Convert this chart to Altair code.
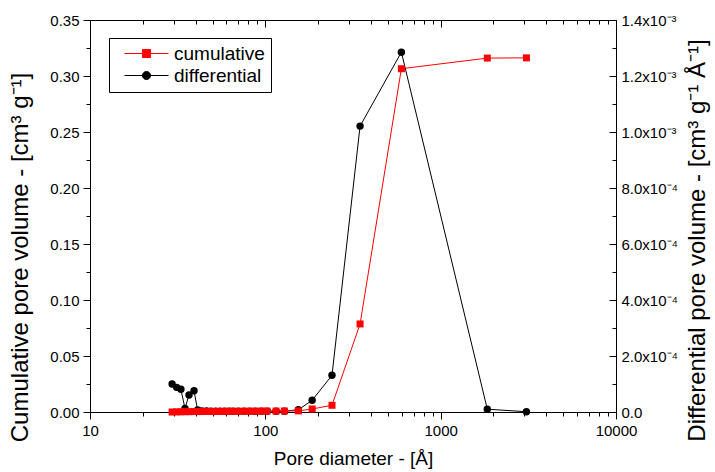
import altair as alt
import pandas as pd

# ---- data ----
diameter = [29.4, 31.2, 33.0, 34.8, 36.7, 39.2, 41.1, 43.5, 46.2, 49.0, 52.0, 55.1,
            58.5, 62.1, 65.4, 70.1, 75.6, 81.5, 87.7, 94.9, 102.3, 115.1, 128.4,
            154.3, 185.0, 240.0, 347.0, 597.0, 1845.0, 3084.0]
cumulative = [0.0000, 0.0001, 0.0002, 0.0003, 0.0003, 0.0004, 0.0004, 0.0004, 0.0005,
              0.0005, 0.0005, 0.0005, 0.0006, 0.0006, 0.0006, 0.0006, 0.0007, 0.0007,
              0.0007, 0.0008, 0.0008, 0.0008, 0.0009, 0.0010, 0.0027, 0.0060, 0.0786,
              0.3065, 0.3160, 0.3162]
differential = [1.00e-4, 0.88e-4, 0.81e-4, 0.13e-4, 0.61e-4, 0.76e-4, 0.07e-4, 0.04e-4,
                0.04e-4, 0.03e-4, 0.03e-4, 0.03e-4, 0.03e-4, 0.03e-4, 0.03e-4, 0.03e-4,
                0.03e-4, 0.03e-4, 0.03e-4, 0.03e-4, 0.03e-4, 0.03e-4, 0.03e-4, 0.08e-4,
                0.42e-4, 1.31e-4, 10.21e-4, 12.85e-4, 0.10e-4, 0.01e-4]

series_names = ["cumulative", "differential"]
series_colors = ["#ff0000", "#000000"]

x_major = [10, 100, 1000, 10000]
x_minor = [20, 30, 40, 50, 60, 70, 80, 90, 200, 300, 400, 500, 600, 700, 800, 900,
           2000, 3000, 4000, 5000, 6000, 7000, 8000, 9000]
yl_major = [0.0, 0.05, 0.10, 0.15, 0.20, 0.25, 0.30, 0.35]
yl_minor = [0.025, 0.075, 0.125, 0.175, 0.225, 0.275, 0.325]
yr_major = [0.0, 0.0002, 0.0004, 0.0006, 0.0008, 0.0010, 0.0012, 0.0014]
yr_minor = [0.0001, 0.0003, 0.0005, 0.0007, 0.0009, 0.0011, 0.0013]

x_title = "Pore diameter - [Å]"
yl_title = "Cumulative pore volume - [cm³ g⁻¹]"
yr_title = "Differential pore volume - [cm³ g⁻¹ Å⁻¹]"

df_cum = pd.DataFrame({"d": diameter, "v": cumulative, "series": series_names[0]})
df_diff = pd.DataFrame({"d": diameter, "v": differential, "series": series_names[1]})
df_all = pd.concat([df_cum, df_diff], ignore_index=True)

FONT = "Liberation Sans"
LABEL_SIZE = 15
TITLE_SIZE = 19
YTITLE_SIZE = 24

xscale = alt.Scale(type="log", domain=[10, 10000], nice=False)
ylscale = alt.Scale(domain=[0, 0.35], nice=False, zero=False)
yrscale = alt.Scale(domain=[0, 0.0014], nice=False, zero=False)

common = dict(domain=False, grid=False, tickColor="black", tickWidth=1,
              labelFont=FONT, labelFontSize=LABEL_SIZE, labelColor="black",
              titleFont=FONT, titleFontWeight="normal",
              titleColor="black", labelFlush=False, labelOverlap=False)

# bottom / left major
ax_x_bottom = alt.Axis(orient="bottom", values=x_major, format="d", tickSize=7,
                       labelPadding=4, title=x_title, titlePadding=11,
                       titleFontSize=TITLE_SIZE, **common)
ax_y_left = alt.Axis(orient="left", values=yl_major, format=".2f", tickSize=7,
                     labelPadding=4, title=yl_title, titlePadding=17,
                     titleFontSize=YTITLE_SIZE, titleY=237, **common)
# bottom / left minor
ax_x_bottom_minor = alt.Axis(orient="bottom", values=x_minor, labels=False, tickSize=4,
                             title=None, **common)
ax_y_left_minor = alt.Axis(orient="left", values=yl_minor, labels=False, tickSize=4,
                           title=None, **common)
# top / right major (inward ticks)
ax_x_top = alt.Axis(orient="top", values=x_major, labels=False, tickSize=7, offset=-7,
                    title=None, **common)
ax_y_right = alt.Axis(orient="right", values=yr_major, tickSize=7, offset=-7,
                      labelPadding=5, title=yr_title, titlePadding=8,
                      titleFontSize=YTITLE_SIZE, titleAngle=270, titleBaseline="top",
                      titleY=220,
                      labelExpr="datum.value == 0 ? '0.0' : (datum.value >= 0.00099 ? "
                                "format(datum.value * 1000, '.1f') + 'x10⁻³' : "
                                "format(datum.value * 10000, '.1f') + 'x10⁻⁴')",
                      **common)
# top / right minor
ax_x_top_minor = alt.Axis(orient="top", values=x_minor, labels=False, tickSize=4,
                          offset=-4, title=None, **common)
ax_y_right_minor = alt.Axis(orient="right", values=yr_minor, labels=False, tickSize=4,
                            offset=-4, title=None, **common)

diff_line = alt.Chart(df_diff).mark_line(color="black", strokeWidth=1).encode(
    x=alt.X("d:Q", scale=xscale, axis=ax_x_top),
    y=alt.Y("v:Q", scale=yrscale, axis=ax_y_right),
)
diff_pts = alt.Chart(df_diff).mark_point(shape="circle", filled=True, size=55,
                                         color="black", opacity=1).encode(
    x=alt.X("d:Q", scale=xscale, axis=ax_x_top_minor),
    y=alt.Y("v:Q", scale=yrscale, axis=ax_y_right_minor),
)
cum_line = alt.Chart(df_cum).mark_line(color="#ff0000", strokeWidth=1).encode(
    x=alt.X("d:Q", scale=xscale, axis=ax_x_bottom),
    y=alt.Y("v:Q", scale=ylscale, axis=ax_y_left),
)
cum_pts = alt.Chart(df_cum).mark_point(shape="square", filled=True, size=49,
                                       color="#ff0000", opacity=1).encode(
    x=alt.X("d:Q", scale=xscale, axis=ax_x_bottom_minor),
    y=alt.Y("v:Q", scale=ylscale, axis=ax_y_left_minor),
)

# legend carrier layer: its marks fall outside its own scale domain and are clipped
sym_square = "M-3,0H3M-0.55,-0.55H0.55V0.55H-0.55Z"
sym_circle = "M-3,0H3M0.55,0A0.55,0.55,0,1,1,-0.55,0A0.55,0.55,0,1,1,0.55,0Z"
legend = alt.Legend(orient="none", legendX=19, legendY=18, title=None,
                    strokeColor="black", fillColor="white", padding=6,
                    labelFont=FONT, labelFontSize=TITLE_SIZE, labelColor="black",
                    labelExpr="datum.label + '\u00a0\u00a0\u00a0'",
                    symbolSize=215, symbolStrokeWidth=1, symbolOpacity=1,
                    symbolOffset=22, labelOffset=18, rowPadding=2)
legend_layer = alt.Chart(df_all).mark_point(filled=True, clip=True).encode(
    x=alt.X("d:Q", scale=alt.Scale(type="log", domain=[1e6, 1e7]), axis=None),
    y=alt.Y("v:Q", scale=alt.Scale(domain=[10, 20]), axis=None),
    fill=alt.Fill("series:N", scale=alt.Scale(domain=series_names, range=series_colors),
                  legend=legend),
    stroke=alt.Stroke("series:N", scale=alt.Scale(domain=series_names, range=series_colors),
                      legend=legend),
    shape=alt.Shape("series:N", scale=alt.Scale(domain=series_names,
                                                range=[sym_square, sym_circle]),
                    legend=legend),
)

chart = alt.layer(diff_line, diff_pts, cum_line, cum_pts, legend_layer).resolve_scale(
    x="independent", y="independent"
).resolve_axis(
    x="independent", y="independent"
).properties(
    width=526, height=392,
    autosize=alt.AutoSizeParams(type="none"),
    padding={"left": 90, "top": 20, "right": 99, "bottom": 60},
    background="white",
).configure_view(stroke="black", strokeWidth=1)

chart.save("out.html", embed_options={"renderer": "svg", "actions": False})
